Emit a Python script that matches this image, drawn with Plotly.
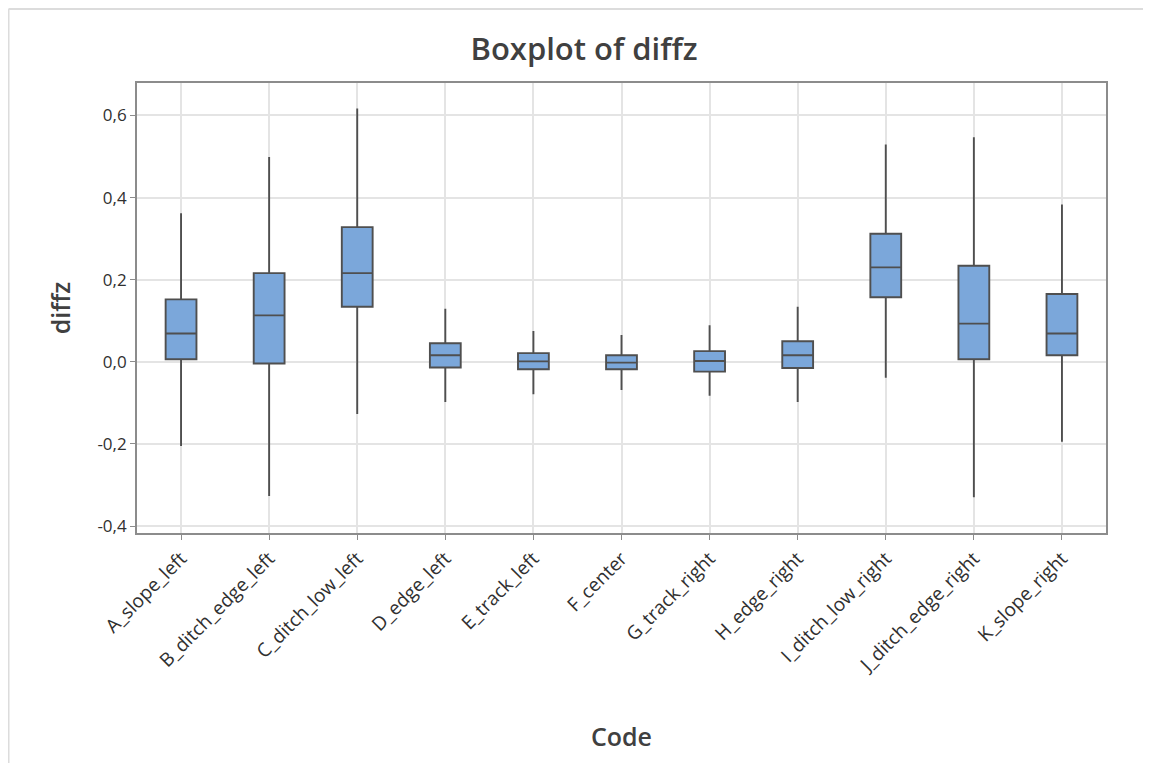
import plotly.graph_objects as go

codes = ["A_slope_left", "B_ditch_edge_left", "C_ditch_low_left", "D_edge_left",
         "E_track_left", "F_center", "G_track_right", "H_edge_right",
         "I_ditch_low_right", "J_ditch_edge_right", "K_slope_right"]
lower_whisker = [-0.205, -0.327, -0.127, -0.098, -0.079, -0.069, -0.083, -0.098, -0.039, -0.330, -0.195]
q1_vals       = [0.006, -0.004, 0.134, -0.014, -0.018, -0.018, -0.024, -0.015, 0.157, 0.006, 0.016]
medians       = [0.069, 0.113, 0.216, 0.016, 0.001, -0.002, 0.002, 0.016, 0.230, 0.093, 0.069]
q3_vals       = [0.152, 0.216, 0.328, 0.045, 0.021, 0.016, 0.026, 0.050, 0.312, 0.234, 0.165]
upper_whisker = [0.362, 0.499, 0.617, 0.129, 0.075, 0.065, 0.089, 0.134, 0.529, 0.547, 0.383]
y_ticks = [-0.4, -0.2, 0.0, 0.2, 0.4, 0.6]
y_tick_text = ["-0,4", "-0,2", "0,0", "0,2", "0,4", "0,6"]

# page has an 8px body margin; figure is sized to fit inside it
W, H = 1135, 755
ml, mr, mt, mb = 129, 37, 75, 230
pw, ph = W - ml - mr, H - mt - mb

fig = go.Figure()
fig.add_trace(go.Box(
    x=codes, q1=q1_vals, median=medians, q3=q3_vals,
    lowerfence=lower_whisker, upperfence=upper_whisker,
    fillcolor="#7ba7da", line=dict(color="#4f4f4f", width=1.9),
    width=0.35, whiskerwidth=0, boxpoints=False, showlegend=False,
))

font_family = "Open Sans, Noto Sans, DejaVu Sans, sans-serif"
fig.update_layout(
    width=W, height=H,
    margin=dict(l=ml, r=mr, t=mt, b=mb),
    paper_bgcolor="white", plot_bgcolor="white",
    separators=",.",
    font=dict(family=font_family, color="#303030"),
    title=dict(text="Boxplot of diffz", x=0.5075, xanchor="center",
               y=1 - 41 / H, yanchor="middle",
               font=dict(size=31, color="#404040", family=font_family, weight=600)),
    xaxis=dict(
        range=[-0.5, 10.5], tickangle=-45, tickfont=dict(size=19, color="#303030"),
        showgrid=True, gridcolor="#e4e4e4", gridwidth=1.5,
        showline=True, linecolor="#8c8c8c", linewidth=1.8, mirror=True,
        ticks="outside", ticklen=5, tickcolor="#8c8c8c",
        title=dict(text="Code", font=dict(size=25, color="#404040", weight=600), standoff=52),
    ),
    yaxis=dict(
        range=[-0.417, 0.679], tickvals=y_ticks, ticktext=y_tick_text,
        tickfont=dict(size=17, color="#303030"),
        showgrid=True, gridcolor="#e4e4e4", gridwidth=1.5, zeroline=False,
        showline=True, linecolor="#8c8c8c", linewidth=1.8, mirror=True,
        ticks="outside", ticklen=5, tickcolor="#8c8c8c",
        title=dict(text="diffz", font=dict(size=25, color="#404040", weight=600), standoff=20),
    ),
)

# outer frame (left and top edges of the surrounding panel)
x_left = (0.5 - ml) / pw
y_top = (H - mb - 1) / ph
y_bottom = (H - mb - H - 5) / ph
x_right = (W + 5 - ml) / pw
fig.add_shape(type="line", xref="paper", yref="paper", x0=x_left, x1=x_left, y0=y_bottom, y1=y_top,
              line=dict(color="#dcdcdc", width=2), layer="below")
fig.add_shape(type="line", xref="paper", yref="paper", x0=x_left, x1=x_right, y0=y_top, y1=y_top,
              line=dict(color="#dcdcdc", width=2), layer="below")

fig.write_html("out.html")
